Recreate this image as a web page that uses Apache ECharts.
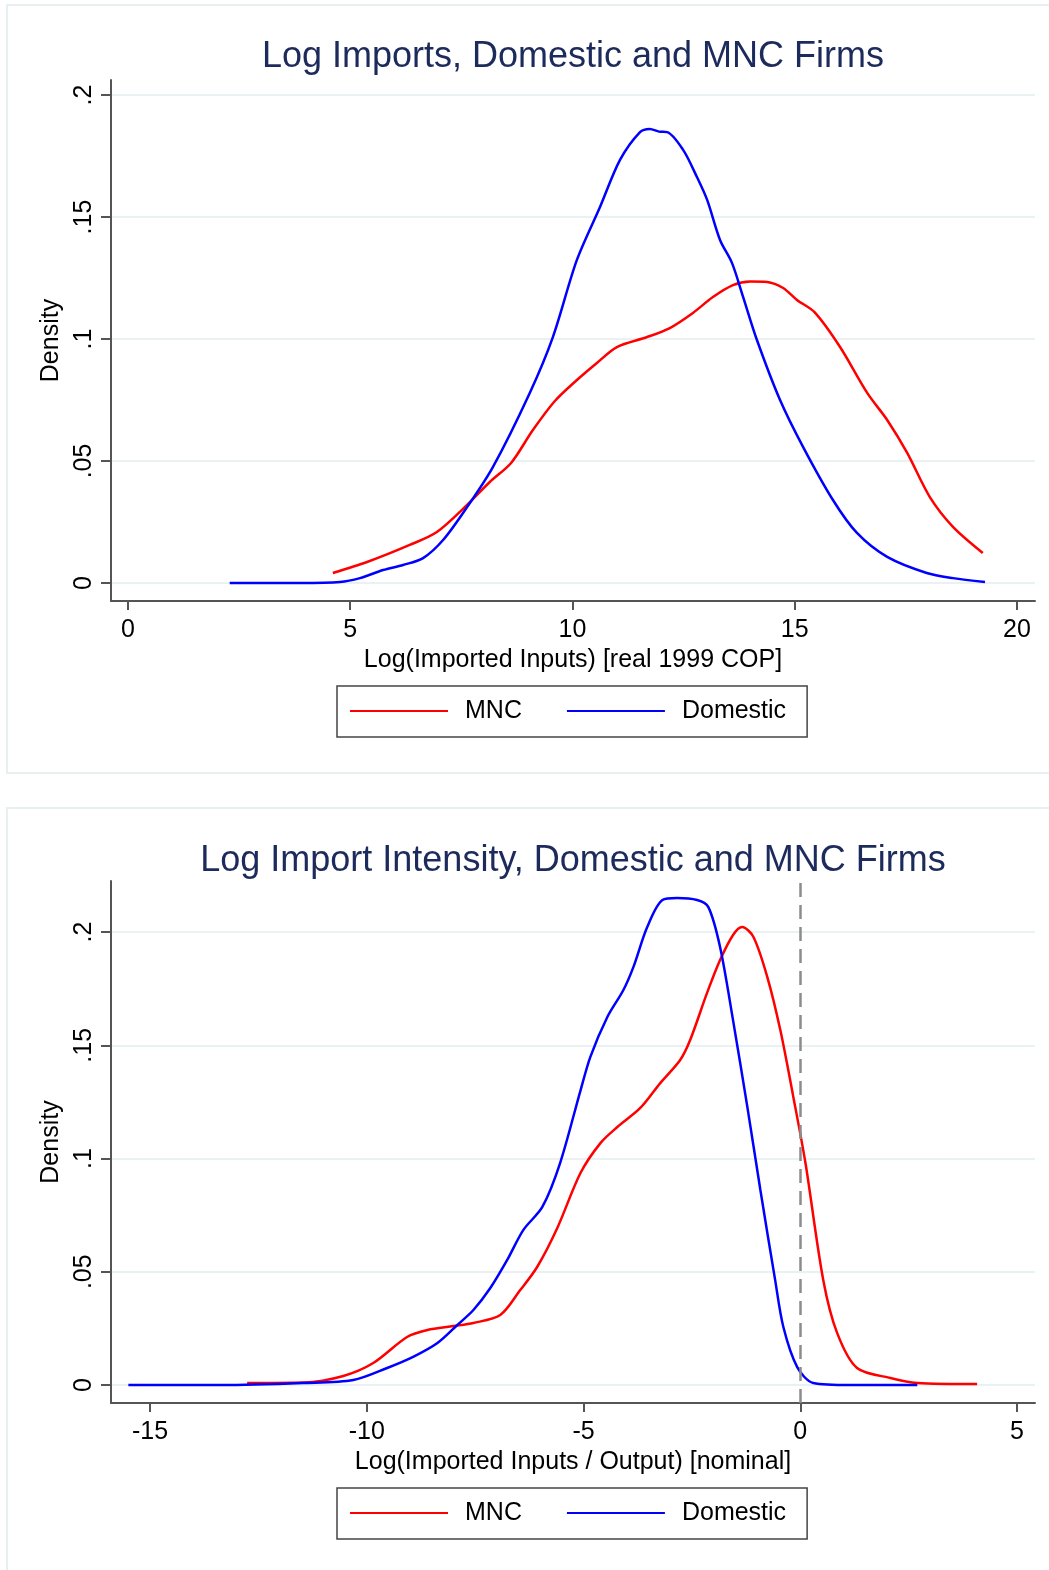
<!DOCTYPE html>
<html>
<head>
<meta charset="utf-8">
<script src="https://cdn.jsdelivr.net/npm/echarts@6/dist/echarts.min.js"></script>
<style>
  html, body { margin: 0; padding: 0; background: #fff; }
  #chart { width: 1049px; height: 1570px; }
</style>
</head>
<body>
<div id="chart"></div>
<script>
// top panel: log imported inputs (x, density)
const importsMnc = [
  [4.61, 0.0041], [5.38, 0.0086], [6.34, 0.0156], [6.95, 0.0209], [7.63, 0.032],
  [8.14, 0.0414], [8.62, 0.0492], [9.11, 0.0627], [9.6, 0.0745], [10.10, 0.0832],
  [10.55, 0.0902], [11.0, 0.0967], [11.68, 0.1008], [12.19, 0.1045], [12.71, 0.1107],
  [13.16, 0.1172], [13.61, 0.1221], [14.0, 0.1236], [14.38, 0.1234], [14.74, 0.1209],
  [15.05, 0.116], [15.45, 0.1109], [16.02, 0.0967], [16.63, 0.0779], [17.08, 0.0668],
  [17.53, 0.0533], [18.04, 0.0352], [18.56, 0.023], [19.23, 0.0123]
]
const importsDomestic = [
  [2.29, 0], [3.87, 0], [4.77, 0.0004], [5.22, 0.002], [5.74, 0.0053], [6.19, 0.0074],
  [6.64, 0.0102], [7.09, 0.0176], [7.63, 0.0311], [8.21, 0.0475], [9.04, 0.0779],
  [9.56, 0.1008], [10.10, 0.1324], [10.62, 0.1541], [11.07, 0.1734], [11.52, 0.1848],
  [11.74, 0.1861], [11.95, 0.185], [12.13, 0.1848], [12.49, 0.1775], [12.80, 0.1664],
  [13.03, 0.157], [13.32, 0.1406], [13.59, 0.1311], [13.84, 0.1172], [14.15, 0.0996],
  [14.67, 0.075], [15.19, 0.0557], [15.86, 0.034], [16.40, 0.0205], [17.08, 0.0107],
  [17.97, 0.0041], [18.56, 0.002], [19.28, 0.0004]
]

// bottom panel: log import intensity (x, density)
const intensityMnc = [
  [-12.76, 0.0009], [-11.46, 0.0011], [-10.54, 0.004], [-9.85, 0.0097], [-9.07, 0.0212],
  [-8.6, 0.0243], [-8.0, 0.026], [-7.54, 0.0274], [-6.92, 0.0309], [-6.46, 0.0419],
  [-6.07, 0.0521], [-5.61, 0.0691], [-5.07, 0.0936], [-4.61, 0.1068], [-4.22, 0.1139],
  [-3.69, 0.1223], [-3.23, 0.1333], [-2.77, 0.1435], [-2.54, 0.1523], [-2.15, 0.1731],
  [-1.85, 0.1876], [-1.55, 0.1987], [-1.34, 0.2022], [-1.08, 0.1978], [-0.76, 0.1801],
  [-0.46, 0.1567], [-0.16, 0.1272], [0.12, 0.098], [0.53, 0.0464], [0.85, 0.023],
  [1.31, 0.0075], [2.08, 0.0031], [2.7, 0.0009], [4.08, 0.0004]
]
const intensityDomestic = [
  [-15.5, 0], [-13.38, 0], [-11.46, 0.0009], [-10.31, 0.0022], [-9.53, 0.0075],
  [-8.93, 0.0124], [-8.37, 0.0185], [-7.91, 0.0265], [-7.54, 0.0331], [-7.15, 0.0428],
  [-6.76, 0.0552], [-6.39, 0.0684], [-5.95, 0.0786], [-5.54, 0.098], [-5.07, 0.130],
  [-4.84, 0.145], [-4.45, 0.1625], [-4.08, 0.1744], [-3.85, 0.1845], [-3.53, 0.2022],
  [-3.18, 0.2141], [-2.84, 0.215], [-2.38, 0.2141], [-2.12, 0.211], [-1.85, 0.1934],
  [-1.55, 0.161], [-1.22, 0.1227], [-0.92, 0.0861], [-0.58, 0.0464], [-0.39, 0.0256],
  [-0.07, 0.0079], [0.30, 0.0009], [1.15, 0], [2.7, 0]
]

const topXTicks = [0, 5, 10, 15, 20]
const bottomXTicks = [-15, -10, -5, 0, 5]
const densityTicks = [0, 0.05, 0.1, 0.15, 0.2]
const refLine = 0

const FONT = '"Liberation Sans", Helvetica, Arial, sans-serif'
const AXIS_COLOR = '#555'
const GRID_COLOR = '#eaf1f3'

function densityLabel(v) {
  if (v === 0) return '0'
  return String(+v.toFixed(2)).replace(/^0/, '')
}

function xAxis(gridIndex, min, max, ticks, name) {
  return {
    type: 'value',
    gridIndex: gridIndex,
    min: min,
    max: max,
    name: name,
    nameLocation: 'middle',
    nameGap: 47,
    nameTextStyle: { fontFamily: FONT, fontSize: 25, color: '#000' },
    axisLine: { show: true, onZero: false, lineStyle: { color: AXIS_COLOR, width: 2 } },
    axisTick: { show: true, length: 9, customValues: ticks, lineStyle: { color: AXIS_COLOR, width: 2 } },
    axisLabel: { customValues: ticks, margin: 17, fontFamily: FONT, fontSize: 25, color: '#000' },
    splitLine: { show: false }
  }
}

function yAxis(gridIndex, min, max) {
  return {
    type: 'value',
    gridIndex: gridIndex,
    min: min,
    max: max,
    name: 'Density',
    nameLocation: 'middle',
    nameGap: 41,
    nameTextStyle: { fontFamily: FONT, fontSize: 25, color: '#000' },
    axisLine: { show: true, onZero: false, lineStyle: { color: AXIS_COLOR, width: 2 } },
    axisTick: { show: true, length: 10, customValues: densityTicks, lineStyle: { color: AXIS_COLOR, width: 2 } },
    axisLabel: {
      customValues: densityTicks,
      rotate: 90,
      margin: 14,
      fontFamily: FONT,
      fontSize: 25,
      color: '#000',
      formatter: densityLabel
    },
    splitLine: { show: true, lineStyle: { color: GRID_COLOR, width: 2 } }
  }
}

function lineSeries(name, data, color, idx) {
  return {
    name: name,
    type: 'line',
    xAxisIndex: idx,
    yAxisIndex: idx,
    data: data,
    symbol: 'none',
    smooth: 0.3,
    lineStyle: { color: color, width: 2.5 },
    itemStyle: { color: color },
    z: 3
  }
}

function legend(top) {
  return {
    left: 337,
    top: top,
    orient: 'horizontal',
    data: ['MNC', 'Domestic'],
    icon: 'rect',
    itemWidth: 98,
    itemHeight: 2,
    itemGap: 45,
    padding: [11, 21, 12, 13],
    borderColor: '#444',
    borderWidth: 1.5,
    selectedMode: false,
    textStyle: { fontFamily: FONT, fontSize: 25, color: '#000', lineHeight: 28, padding: [0, 0, 0, 12] }
  }
}

const chart = echarts.init(document.getElementById('chart'), null, { renderer: 'canvas' })

chart.setOption({
  animation: false,
  backgroundColor: '#fff',
  graphic: [
    {
      type: 'rect', z: -10, silent: true,
      shape: { x: 7, y: 5, width: 1060, height: 768 },
      style: { fill: '#fff', stroke: '#e8eff1', lineWidth: 2 }
    },
    {
      type: 'rect', z: -10, silent: true,
      shape: { x: 7, y: 808, width: 1060, height: 800 },
      style: { fill: '#fff', stroke: '#e8eff1', lineWidth: 2 }
    },
    {
      type: 'text', silent: true,
      style: {
        x: 573, y: 57, text: 'Log Imports, Domestic and MNC Firms',
        font: '36px ' + FONT, fill: '#1c2a5c', align: 'center', verticalAlign: 'middle'
      }
    },
    {
      type: 'text', silent: true,
      style: {
        x: 573, y: 861, text: 'Log Import Intensity, Domestic and MNC Firms',
        font: '36px ' + FONT, fill: '#1c2a5c', align: 'center', verticalAlign: 'middle'
      }
    }
  ],
  legend: [legend(686), legend(1488)],
  grid: [
    { left: 111, right: 14, top: 80, height: 521, containLabel: false },
    { left: 111, right: 14, top: 881, height: 522, containLabel: false }
  ],
  xAxis: [
    xAxis(0, -0.38, 20.405, topXTicks, 'Log(Imported Inputs) [real 1999 COP]'),
    xAxis(1, -15.9, 5.415, bottomXTicks, 'Log(Imported Inputs / Output) [nominal]')
  ],
  yAxis: [
    yAxis(0, -0.00738, 0.20615),
    yAxis(1, -0.00795, 0.22252)
  ],
  series: [
    lineSeries('MNC', importsMnc, '#ff0000', 0),
    lineSeries('Domestic', importsDomestic, '#0000ff', 0),
    Object.assign(lineSeries('MNC', intensityMnc, '#ff0000', 1), {
      markLine: {
        silent: true,
        symbol: 'none',
        label: { show: false },
        lineStyle: { color: '#8c8c8c', width: 2.5, type: [14, 8] },
        data: [{ xAxis: refLine }]
      }
    }),
    lineSeries('Domestic', intensityDomestic, '#0000ff', 1)
  ]
})
</script>
</body>
</html>
